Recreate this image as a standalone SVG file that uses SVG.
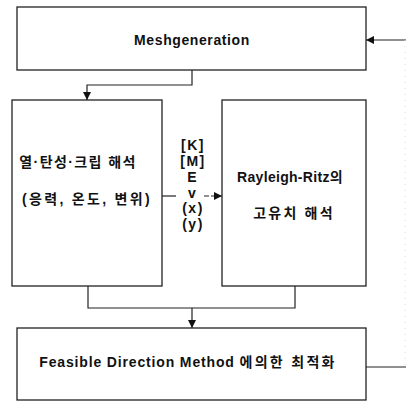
<svg xmlns="http://www.w3.org/2000/svg" width="406" height="408" viewBox="0 0 406 408">
<style>
.box{fill:#fff;stroke:#222;stroke-width:1.3}
.ln{fill:none;stroke:#222;stroke-width:1.2}
.t{font-family:"Liberation Sans","Noto Sans CJK KR",sans-serif;font-weight:bold;font-size:14px;fill:#111;text-anchor:middle}
.k{letter-spacing:2.2px}
.m{letter-spacing:1.5px}
</style>
<defs>
<marker id="ah" viewBox="0 0 10 10" refX="10" refY="5" markerWidth="8" markerHeight="8" markerUnits="userSpaceOnUse" orient="auto">
<path d="M0,0 L10,5 L0,10 z" fill="#111"/>
</marker>
</defs>
<rect width="406" height="408" fill="#fff"/>
<g id="connectors">
<path class="ln" d="M192,70 V85 H87 V100" marker-end="url(#ah)"/>
<path class="ln" d="M88,286 V308 H295 V286"/>
<path class="ln" d="M192,308 V328" marker-end="url(#ah)"/>
<path class="ln" d="M162,196 H176"/>
<path class="ln" d="M204,196 H222" stroke-dasharray="5 2" marker-end="url(#ah)"/>
<path class="ln" d="M366,367 H406"/>
<path class="ln" d="M406,40 H366" marker-end="url(#ah)"/>
<path d="M405,40 V367" fill="none" stroke="#ddd" stroke-width="1" stroke-dasharray="1 5"/>
</g>
<g id="mesh">
<rect class="box" x="17" y="7" width="349" height="63"/>
<text class="t" x="192" y="45" letter-spacing="0.6">Meshgeneration</text>
</g>
<g id="thermal">
<rect class="box" x="12" y="100" width="150" height="186"/>
<text class="t" x="78" y="167" letter-spacing="1.4">열·탄성·크립 해석</text>
<text class="t" x="87" y="204" letter-spacing="2.3">(응력, 온도, 변위)</text>
</g>
<g id="labels">
<text class="t m" x="193" y="150">[K]</text>
<text class="t m" x="193" y="166">[M]</text>
<text class="t" x="192" y="182" font-weight="normal">E</text>
<text class="t" x="192" y="198">v</text>
<text class="t m" x="193" y="213">(x)</text>
<text class="t m" x="193" y="229">(y)</text>
</g>
<g id="rayleigh">
<rect class="box" x="222" y="100" width="144" height="186"/>
<text class="t" x="290" y="182" letter-spacing="0.3">Rayleigh-Ritz의</text>
<text class="t k" x="294" y="218">고유치 해석</text>
</g>
<g id="feasible">
<rect class="box" x="17" y="328" width="349" height="72"/>
<text class="t" x="188" y="367"><tspan letter-spacing="0.85">Feasible Direction Method </tspan><tspan letter-spacing="2.3">에의한 최적화</tspan></text>
</g>
</svg>
